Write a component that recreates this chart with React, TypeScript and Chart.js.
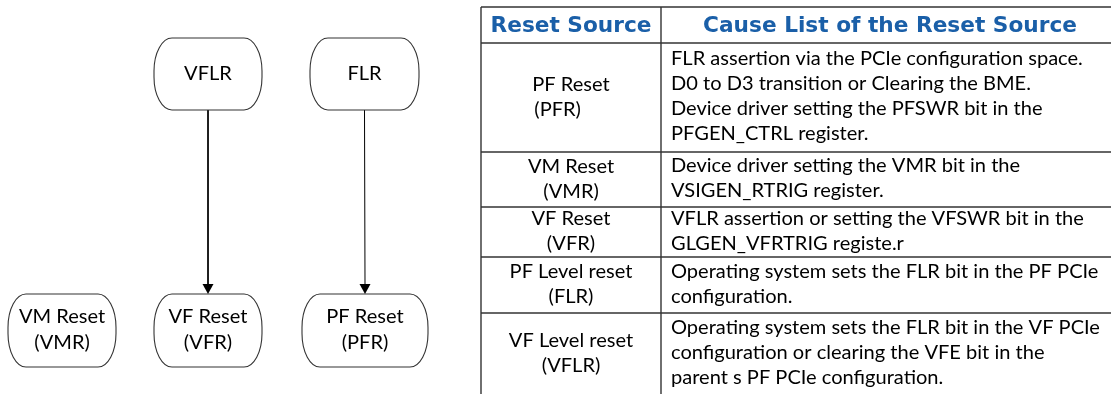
import React, { useEffect, useRef } from "react";
import { Chart, registerables } from "chart.js";

Chart.register(...registerables);

// ---------- diagram data ----------
const nodeNames: string[][] = [
  ["VFLR"],
  ["FLR"],
  ["VM Reset", "(VMR)"],
  ["VF Reset", "(VFR)"],
  ["PF Reset", "(PFR)"],
];
const nodeCx = [208, 364.5, 62, 208, 365];
const nodeCy = [74, 74, 330.5, 330.5, 330.5];
const nodeHalfW = [54, 54.5, 54, 54, 63];
const nodeHalfH = [36, 36, 36.5, 36.5, 36.5];
const arrowFrom = [0, 1];
const arrowTo = [3, 4];

// ---------- table data ----------
const tableHeaders = ["Reset Source", "Cause List of the Reset Source"];
const resetSources: string[][] = [
  ["PF Reset", " (PFR)"],
  ["VM Reset", "(VMR)"],
  ["VF Reset", "(VFR)"],
  ["PF Level reset", "(FLR)"],
  ["VF Level reset", "(VFLR)"],
];
const causeLists: string[][] = [
  [
    "FLR assertion via the PCIe configuration space.",
    "D0 to D3 transition or Clearing the BME.",
    "Device driver setting the PFSWR bit in the",
    "PFGEN_CTRL register.",
  ],
  ["Device driver setting the VMR bit in the", "VSIGEN_RTRIG register."],
  ["VFLR assertion or setting the VFSWR bit in the", "GLGEN_VFRTRIG registe.r"],
  ["Operating system sets the FLR bit in the PF PCIe", "configuration."],
  [
    "Operating system sets the FLR bit in the VF PCIe",
    "configuration or clearing the VFE bit in the",
    "parent s PF PCIe configuration.",
  ],
];

// ---------- layout / style (not data) ----------
const tableCols = [481, 661, 1120];
const tableRows = [7, 43, 152, 207, 257, 313, 400];
const lineGap = 25;
const ARROW_LEN = 10;
const ARROW_HALF = 5.5;
const BODY_FONT = "Lato";
const HEAD_FONT = "'DejaVu Sans'";
const HEAD_COLOR = "#1a5fa8";
const LINE_COLOR = "#333333";
const TEXT_COLOR = "#000000";

const drawPlugin = {
  id: "diagramTable",
  afterDatasetsDraw(chart: any) {
    const ctx: CanvasRenderingContext2D = chart.ctx;
    const xs = chart.scales.x;
    const ys = chart.scales.y;
    const px = (v: number) => xs.getPixelForValue(v);
    const py = (v: number) => ys.getPixelForValue(v);

    // fit fonts to reference widths
    ctx.save();
    ctx.font = `100px ${BODY_FONT}`;
    const bodySize = (100 * 412) / ctx.measureText(causeLists[0][0]).width;
    ctx.font = `bold 100px ${HEAD_FONT}`;
    const headSize = (100 * 374) / ctx.measureText(tableHeaders[1]).width;
    ctx.restore();

    ctx.save();
    // ---- nodes ----
    ctx.strokeStyle = LINE_COLOR;
    ctx.lineWidth = 1.1;
    for (let i = 0; i < nodeNames.length; i++) {
      const l = px(nodeCx[i] - nodeHalfW[i]);
      const r = px(nodeCx[i] + nodeHalfW[i]);
      const t = py(nodeCy[i] - nodeHalfH[i]);
      const b = py(nodeCy[i] + nodeHalfH[i]);
      const rx = 18;
      const ry = (b - t) / 2 - 3;
      ctx.beginPath();
      ctx.moveTo(l + rx, t);
      ctx.lineTo(r - rx, t);
      ctx.ellipse(r - rx, t + ry, rx, ry, 0, -Math.PI / 2, 0);
      ctx.lineTo(r, b - ry);
      ctx.ellipse(r - rx, b - ry, rx, ry, 0, 0, Math.PI / 2);
      ctx.lineTo(l + rx, b);
      ctx.ellipse(l + rx, b - ry, rx, ry, 0, Math.PI / 2, Math.PI);
      ctx.lineTo(l, t + ry);
      ctx.ellipse(l + rx, t + ry, rx, ry, 0, Math.PI, Math.PI * 1.5);
      ctx.closePath();
      ctx.fillStyle = "#ffffff";
      ctx.fill();
      ctx.stroke();

      ctx.fillStyle = TEXT_COLOR;
      ctx.font = `${bodySize}px ${BODY_FONT}`;
      ctx.textAlign = "center";
      ctx.textBaseline = "middle";
      const lines = nodeNames[i];
      const cy = py(nodeCy[i]);
      lines.forEach((s, k) => {
        ctx.fillText(s, px(nodeCx[i]), cy + (k - (lines.length - 1) / 2) * 26 - 0.5);
      });
    }

    // ---- arrowheads ----
    ctx.fillStyle = "#000000";
    for (let a = 0; a < arrowFrom.length; a++) {
      const to = arrowTo[a];
      const tipX = px(nodeCx[to]);
      const tipY = py(nodeCy[to] - nodeHalfH[to]);
      ctx.beginPath();
      ctx.moveTo(tipX, tipY);
      ctx.lineTo(tipX - ARROW_HALF, tipY - ARROW_LEN);
      ctx.lineTo(tipX + ARROW_HALF, tipY - ARROW_LEN);
      ctx.closePath();
      ctx.fill();
    }

    // ---- table grid ----
    ctx.strokeStyle = LINE_COLOR;
    ctx.lineWidth = 1.4;
    tableRows.forEach((ry) => {
      ctx.beginPath();
      ctx.moveTo(px(tableCols[0]), py(ry));
      ctx.lineTo(px(tableCols[2]), py(ry));
      ctx.stroke();
    });
    tableCols.forEach((cx) => {
      ctx.beginPath();
      ctx.moveTo(px(cx), py(tableRows[0]));
      ctx.lineTo(px(cx), py(tableRows[tableRows.length - 1]));
      ctx.stroke();
    });

    // ---- headers ----
    ctx.fillStyle = HEAD_COLOR;
    ctx.font = `bold ${headSize}px ${HEAD_FONT}`;
    ctx.textAlign = "center";
    ctx.textBaseline = "middle";
    const hy = py((tableRows[0] + tableRows[1]) / 2) + 1;
    ctx.fillText(tableHeaders[0], px((tableCols[0] + tableCols[1]) / 2), hy);
    ctx.fillText(tableHeaders[1], px(890), hy);

    // ---- body ----
    ctx.fillStyle = TEXT_COLOR;
    ctx.font = `${bodySize}px ${BODY_FONT}`;
    for (let r = 0; r < resetSources.length; r++) {
      const top = tableRows[r + 1];
      const bot = Math.min(tableRows[r + 2], 395);
      const mid = (top + bot) / 2;
      // left column, centered
      const left = resetSources[r];
      const lc = px((tableCols[0] + tableCols[1]) / 2);
      let prevLeft = lc;
      left.forEach((s, k) => {
        const yy = py(mid + (k - (left.length - 1) / 2) * lineGap) - 0.5;
        if (s.startsWith(" ")) {
          ctx.textAlign = "left";
          ctx.fillText(s.trim(), prevLeft + 2, yy);
        } else {
          ctx.textAlign = "center";
          ctx.fillText(s, lc, yy);
          prevLeft = lc - ctx.measureText(s).width / 2;
        }
      });
      // right column, left-aligned
      const right = causeLists[r];
      ctx.textAlign = "left";
      right.forEach((s, k) => {
        const yy = py(mid + (k - (right.length - 1) / 2) * lineGap) - 1;
        ctx.fillText(s, px(tableCols[1] + 10), yy);
      });
    }
    ctx.restore();
  },
};

export default function App() {
  const ref = useRef<HTMLCanvasElement | null>(null);
  useEffect(() => {
    if (!ref.current) return;
    const arrowSets = arrowFrom.map((f, a) => {
      const to = arrowTo[a];
      return {
        type: "line" as const,
        data: [
          { x: nodeCx[f], y: nodeCy[f] + nodeHalfH[f] },
          { x: nodeCx[to], y: nodeCy[to] - nodeHalfH[to] - ARROW_LEN + 1 },
        ],
        borderColor: "#000000",
        borderWidth: 1,
        pointRadius: 0,
        showLine: true,
        fill: false,
      };
    });
    const chart = new Chart(ref.current, {
      type: "scatter",
      data: {
        datasets: [
          {
            data: nodeCx.map((x, i) => ({ x, y: nodeCy[i] })),
            pointRadius: 0,
            showLine: false,
          } as any,
          ...arrowSets,
        ],
      },
      options: {
        animation: false,
        responsive: true,
        maintainAspectRatio: false,
        layout: { padding: 0 },
        events: [],
        plugins: { legend: { display: false }, tooltip: { enabled: false } },
        scales: {
          x: { type: "linear", min: 0, max: 1111, display: false },
          y: { type: "linear", min: 0, max: 394, reverse: true, display: false },
        },
      },
      plugins: [drawPlugin],
    });
    return () => chart.destroy();
  }, []);
  return (
    <div style={{ position: "fixed", left: 0, top: 0, width: 1111, height: 394, background: "#fff" }}>
      <canvas ref={ref} />
    </div>
  );
}
